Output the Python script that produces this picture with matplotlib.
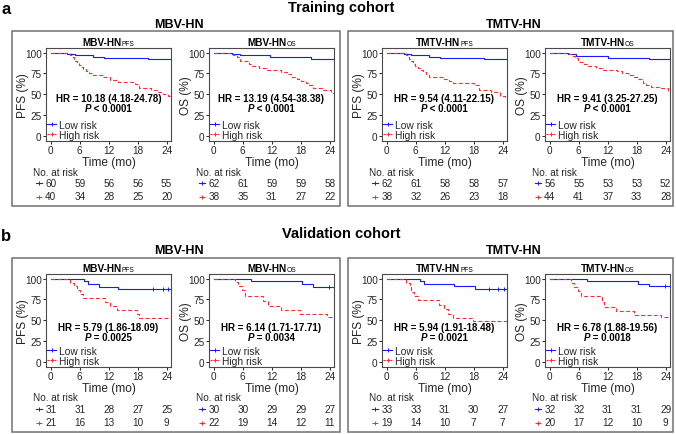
import matplotlib
matplotlib.use("Agg")
import matplotlib.pyplot as plt
import matplotlib.patches as patches
from matplotlib.lines import Line2D

plt.rcParams['font.family'] = ['Liberation Sans', 'DejaVu Sans']

# ---------- data ----------
tick_times = [0, 6, 12, 18, 24]

# training cohort, MBV-HN PFS
a1_low_t = [0, 3.3, 5.0, 8.8, 11.1, 20.2, 25]
a1_low_s = [100, 98.3, 96.7, 95.0, 93.3, 91.7, 91.7]
a1_high_t = [0, 3.9, 4.3, 4.7, 5.0, 5.4, 5.8, 6.2, 6.7, 7.2, 7.9, 8.6, 10.5, 12.2, 14.0, 17.5, 18.3, 20.8, 22.0, 23.2, 24.3, 25]
a1_high_s = [100, 97.5, 95, 92.5, 90, 87.5, 85, 82.5, 80, 77.5, 75, 72.5, 70, 67.5, 65, 62.5, 57.5, 55, 52.5, 50, 47.5, 47.5]
a1_risk_low = [60, 59, 56, 56, 55]
a1_risk_high = [40, 34, 28, 25, 20]

# training cohort, MBV-HN OS
a2_low_t = [0, 3.7, 5.4, 11.6, 20.2, 25]
a2_low_s = [100, 98.4, 96.8, 94.4, 92.4, 92.4]
a2_high_t = [0, 4.0, 4.8, 5.5, 7.2, 8.0, 9.3, 11.0, 14.0, 15.2, 16.0, 17.3, 18.0, 19.0, 19.8, 20.5, 22.5, 24.3, 25]
a2_high_s = [100, 97.4, 94.7, 89.5, 86.8, 84.2, 81.6, 78.9, 76.3, 73.7, 71.1, 68.4, 65.8, 63.2, 60.5, 57.9, 55.3, 51.3, 51.3]
a2_risk_low = [62, 61, 59, 59, 58]
a2_risk_high = [38, 35, 31, 27, 22]

# training cohort, TMTV-HN PFS
a3_low_t = [0, 3.5, 5.0, 8.8, 11.1, 20.2, 25]
a3_low_s = [100, 98.4, 96.8, 95.2, 93.5, 91.9, 91.9]
a3_high_t = [0, 4.0, 4.3, 4.6, 5.0, 5.4, 5.9, 6.4, 6.8, 7.5, 8.1, 8.8, 11.6, 12.8, 13.7, 18.1, 19.2, 21.5, 23.5, 24.4, 25]
a3_high_s = [100, 97.4, 94.7, 92.1, 89.5, 86.8, 84.2, 81.6, 78.9, 76.3, 73.7, 71.1, 68.4, 65.8, 63.2, 60.5, 55.3, 52.6, 47.4, 44.7, 44.7]
a3_risk_low = [62, 61, 58, 58, 57]
a3_risk_high = [38, 32, 26, 23, 18]

# training cohort, TMTV-HN OS
a4_low_t = [0, 3.7, 5.4, 12.0, 20.5, 25]
a4_low_s = [100, 98.2, 96.4, 94.0, 92.5, 92.5]
a4_high_t = [0, 4.0, 4.6, 5.2, 5.8, 7.0, 8.0, 9.5, 11.0, 14.0, 15.0, 16.2, 17.2, 18.3, 19.3, 20.0, 21.0, 23.0, 24.4, 25]
a4_high_s = [100, 97.7, 95.5, 93.2, 88.6, 86.4, 84.1, 81.8, 79.5, 77.3, 75.0, 72.7, 70.5, 68.2, 63.6, 61.4, 59.1, 56.8, 52.3, 52.3]
a4_risk_low = [56, 55, 53, 53, 52]
a4_risk_high = [44, 41, 37, 33, 28]

# validation cohort, MBV-HN PFS
b1_low_t = [0, 6.8, 7.8, 9.9, 14.0, 25]
b1_low_s = [100, 96.8, 93.5, 90.3, 87.8, 87.8]
b1_low_cens = [21.2, 23.3, 24.3]
b1_high_t = [0, 4.0, 4.7, 5.4, 6.1, 6.6, 11.2, 12.3, 13.7, 17.8, 18.2, 25]
b1_high_s = [100, 95.2, 90.5, 85.7, 81.0, 76.2, 71.4, 66.7, 61.9, 57.1, 52.4, 52.4]
b1_risk_low = [31, 31, 28, 27, 25]
b1_risk_high = [21, 16, 13, 10, 9]

# validation cohort, MBV-HN OS
b2_low_t = [0, 7.6, 18.2, 20.6, 25]
b2_low_s = [100, 96.7, 93.3, 90.0, 90.0]
b2_low_cens = [23.9]
b2_high_t = [0, 4.4, 5.1, 5.8, 6.5, 10.2, 11.2, 14.0, 17.8, 23.5, 25]
b2_high_s = [100, 95.5, 90.9, 86.4, 79.0, 72.5, 66.5, 62.0, 57.5, 53.5, 53.5]
b2_risk_low = [30, 30, 29, 29, 27]
b2_risk_high = [22, 19, 14, 12, 11]

# validation cohort, TMTV-HN PFS
b3_low_t = [0, 6.8, 7.8, 14.0, 18.2, 25]
b3_low_s = [100, 97.0, 93.9, 90.9, 87.9, 87.9]
b3_low_cens = [21.2, 23.0, 24.3]
b3_high_t = [0, 4.0, 4.7, 5.0, 5.7, 6.4, 10.9, 11.9, 12.6, 13.7, 17.8, 25]
b3_high_s = [100, 94.7, 89.5, 84.2, 78.9, 74.5, 68.4, 63.2, 57.9, 52.6, 48.4, 48.4]
b3_risk_low = [33, 33, 31, 30, 27]
b3_risk_high = [19, 14, 10, 7, 7]

# validation cohort, TMTV-HN OS
b4_low_t = [0, 7.6, 18.2, 20.6, 25]
b4_low_s = [100, 96.9, 93.8, 90.6, 90.6]
b4_low_cens = [23.9]
b4_high_t = [0, 4.4, 5.1, 5.8, 6.4, 10.8, 11.2, 13.7, 17.5, 23.0, 25]
b4_high_s = [100, 95, 90, 85, 78.5, 72, 65.5, 61, 56.5, 53.5, 51.5]
b4_risk_low = [32, 32, 31, 31, 29]
b4_risk_high = [20, 17, 12, 10, 9]

hr_texts = ["HR = 10.18 (4.18-24.78)", "HR = 13.19 (4.54-38.38)",
            "HR = 9.54 (4.11-22.15)", "HR = 9.41 (3.25-27.25)",
            "HR = 5.79 (1.86-18.09)", "HR = 6.14 (1.71-17.71)",
            "HR = 5.94 (1.91-18.48)", "HR = 6.78 (1.88-19.56)"]
p_texts = [" < 0.0001", " < 0.0001", " < 0.0001", " < 0.0001",
           " = 0.0025", " = 0.0034", " = 0.0021", " = 0.0018"]
sub_titles = [("MBV-HN", "PFS"), ("MBV-HN", "OS"), ("TMTV-HN", "PFS"), ("TMTV-HN", "OS")]
y_labels = ["PFS (%)", "OS (%)", "PFS (%)", "OS (%)"]

panels = [
    (a1_low_t, a1_low_s, [], a1_high_t, a1_high_s, a1_risk_low, a1_risk_high),
    (a2_low_t, a2_low_s, [], a2_high_t, a2_high_s, a2_risk_low, a2_risk_high),
    (a3_low_t, a3_low_s, [], a3_high_t, a3_high_s, a3_risk_low, a3_risk_high),
    (a4_low_t, a4_low_s, [], a4_high_t, a4_high_s, a4_risk_low, a4_risk_high),
    (b1_low_t, b1_low_s, b1_low_cens, b1_high_t, b1_high_s, b1_risk_low, b1_risk_high),
    (b2_low_t, b2_low_s, b2_low_cens, b2_high_t, b2_high_s, b2_risk_low, b2_risk_high),
    (b3_low_t, b3_low_s, b3_low_cens, b3_high_t, b3_high_s, b3_risk_low, b3_risk_high),
    (b4_low_t, b4_low_s, b4_low_cens, b4_high_t, b4_high_s, b4_risk_low, b4_risk_high),
]

# ---------- layout (pixels) ----------
W, H = 676, 435
fig = plt.figure(figsize=(W / 100, H / 100), dpi=100)
renderer = fig.canvas.get_renderer()

BLUE = '#1a1aff'
RED = '#ff2a2a'
DARK = '#262626'
AX_LEFT = [46, 209, 382, 545]
AX_W = 125
AX_TOP = [49, 275]
AX_H = 93
HIGH_DASH = (0, (3.5, 2.2))


def px_rect(x0, y0, w, h):
    return [x0 / W, 1 - (y0 + h) / H, w / W, h / H]


def put_runs(ax, x, y, runs, **common):
    # several text pieces centred together on one baseline
    widths = []
    for s, kw in runs:
        t = ax.text(0, 0, s, **common, **kw)
        widths.append(t.get_window_extent(renderer).width)
        t.remove()
    off = -sum(widths) / 2
    for (s, kw), w in zip(runs, widths):
        ax.annotate(s, xy=(x, y), xycoords='axes fraction',
                    xytext=(off * 72 / fig.dpi, 0), textcoords='offset points',
                    ha='left', va='baseline', annotation_clip=False, **common, **kw)
        off += w


# group boxes
for y0, y1 in [(32, 207), (259, 433)]:
    for x0, x1 in [(12, 340), (348, 673)]:
        fig.patches.append(patches.Rectangle((x0 / W, 1 - y1 / H), (x1 - x0) / W, (y1 - y0) / H,
                                             transform=fig.transFigure, fill=False,
                                             edgecolor='#707070', linewidth=1.1))

# panel letters, cohort titles and group titles
fig.text(1 / W, 1 - 10 / H, "a", fontsize=12, weight='bold', va='center', ha='left')
fig.text(1 / W, 1 - 237 / H, "b", fontsize=12, weight='bold', va='center', ha='left')
fig.text(341 / W, 1 - 8 / H, "Training cohort", fontsize=10.5, weight='bold', va='center', ha='center')
fig.text(341 / W, 1 - 234 / H, "Validation cohort", fontsize=10.5, weight='bold', va='center', ha='center')
for yc in [25.5, 251]:
    fig.text(179 / W, 1 - yc / H, "MBV-HN", fontsize=9, weight='bold', va='center', ha='center')
    fig.text(514 / W, 1 - yc / H, "TMTV-HN", fontsize=9, weight='bold', va='center', ha='center')

for i, (lt, ls, lc, ht, hs, rl, rh) in enumerate(panels):
    row, col = divmod(i, 4)
    ax = fig.add_axes(px_rect(AX_LEFT[col], AX_TOP[row], AX_W, AX_H))

    ax.step(lt, ls, where='post', color=BLUE, lw=0.8)
    if lc:
        ax.plot(lc, [ls[-1]] * len(lc), ls='none', marker='+', ms=3, mew=0.7, color=BLUE)
    ax.step(ht, hs, where='post', color=RED, lw=0.8, linestyle=HIGH_DASH)

    ax.set_xlim(-1.0, 24.9)
    ax.set_ylim(-6.5, 105.5)
    ax.set_xticks(tick_times)
    ax.set_yticks([0, 25, 50, 75, 100])
    ax.tick_params(length=2.5, width=0.7, pad=0.6, labelsize=7.2, color=DARK, labelcolor=DARK)
    for sp in ax.spines.values():
        sp.set_color('#4a4a4a')
        sp.set_linewidth(0.8)

    ax.set_ylabel(y_labels[col], fontsize=8.6, color=DARK, va='center')
    ax.yaxis.set_label_coords(-23 / AX_W, 0.5)
    ax.set_xlabel("Time (mo)", fontsize=8.6, color=DARK, va='center')
    ax.xaxis.set_label_coords(0.5, -21 / AX_H)

    # sub-title with small suffix
    main, sub = sub_titles[col]
    put_runs(ax, 0.5, 1 + 3.0 / AX_H,
             [(main, dict(fontsize=7.2, weight='bold')), (sub, dict(fontsize=4.8))],
             color='black')

    # HR and P value
    hr_y = 0.43 if row == 0 else 0.395
    put_runs(ax, 0.5, hr_y, [(hr_texts[i], dict())], fontsize=7, weight='bold', color='black')
    put_runs(ax, 0.5, hr_y - 0.11,
             [("P", dict(style='italic')), (p_texts[i], dict())],
             fontsize=7, weight='bold', color='black')

    # legend
    handles = [Line2D([], [], color=BLUE, lw=0.8, marker='+', ms=3, mew=0.7),
               Line2D([], [], color=RED, lw=0.8, ls=(0, (2, 1.2)), marker='+', ms=3, mew=0.7)]
    ax.legend(handles, ["Low risk", "High risk"], loc='lower left', frameon=False,
              fontsize=7.4, handlelength=0.9, handletextpad=0.3, labelspacing=0.0,
              borderaxespad=0.0, borderpad=0.1, labelcolor=DARK)

    # number at risk table
    trans = ax.get_xaxis_transform()
    ax.text(-3.6, -30.5 / AX_H, "No. at risk", transform=trans, fontsize=7.2,
            color=DARK, ha='left', va='center', clip_on=False)
    for vals, yy, colr, lst in [(rl, -42 / AX_H, BLUE, '-'), (rh, -55.5 / AX_H, RED, (0, (2.2, 0.7)))]:
        ax.plot([-3.1, -1.9], [yy, yy], transform=trans, color=colr, lw=0.8,
                ls=lst, clip_on=False)
        ax.plot([-2.5], [yy], transform=trans, color=colr, marker='+', ms=3,
                mew=0.7, clip_on=False)
        for tt, v in zip(tick_times, vals):
            ax.text(tt, yy, str(v), transform=trans, fontsize=7.2, color=DARK,
                    ha='center', va='center', clip_on=False)

fig.savefig("out.png", dpi=100)
